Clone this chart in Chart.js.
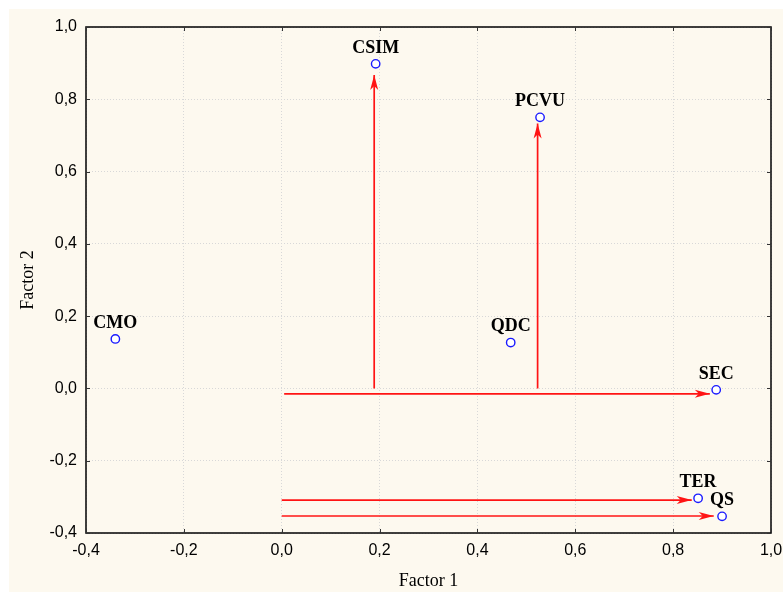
<!DOCTYPE html>
<html><head><meta charset="utf-8">
<script src="https://cdn.jsdelivr.net/npm/chart.js@4/dist/chart.umd.min.js"></script>
<style>
html,body{margin:0;padding:0;background:#fff;}
#wrap{position:absolute;left:9px;top:9px;width:774px;height:583px;background:#fdf9ef;}
</style></head><body>
<div id="wrap"><canvas id="c" width="774" height="583"></canvas></div>
<script>
// Variables and their loadings
const categories = ['CSIM','PCVU','CMO','QDC','SEC','TER','QS'];
const factor1 = [0.192, 0.528, -0.340, 0.468, 0.888, 0.851, 0.900];
const factor2 = [0.898, 0.750, 0.137, 0.127, -0.004, -0.304, -0.354];
// Arrows (start -> end)
const arrowFromX = [0.189, 0.523, 0.005, 0.000, 0.000];
const arrowFromY = [0.000, 0.000, -0.015, -0.309, -0.353];
const arrowToX   = [0.189, 0.523, 0.875, 0.838, 0.883];
const arrowToY   = [0.867, 0.733, -0.015, -0.309, -0.353];
// Axis ticks
const tickValuesX = [-0.4,-0.2,0.0,0.2,0.4,0.6,0.8,1.0];
const tickLabelsX = ['-0,4','-0,2','0,0','0,2','0,4','0,6','0,8','1,0'];
const tickValuesY = [-0.4,-0.2,0.0,0.2,0.4,0.6,0.8,1.0];
const tickLabelsY = ['-0,4','-0,2','0,0','0,2','0,4','0,6','0,8','1,0'];

const RED = 'rgb(255,20,20)';
const HEAD_LEN = 15, HEAD_W = 4, NOTCH = 11;

function labelFor(vals, labs, v){
  for(let i=0;i<vals.length;i++) if(Math.abs(vals[i]-v)<1e-6) return labs[i];
  return '';
}

const arrowDatasets = arrowFromX.map((x0,i)=>({
  type:'line',
  data:[{x:x0,y:arrowFromY[i]},{x:arrowToX[i],y:arrowToY[i]}],
  borderColor:RED, borderWidth:1.7, pointRadius:0, fill:false, tension:0,
  order:2
}));

const pointDataset = {
  type:'scatter',
  data: categories.map((c,i)=>({x:factor1[i],y:factor2[i]})),
  pointStyle:'circle', pointRadius:4.2, borderColor:'#1a1aff', backgroundColor:'#ffffff',
  borderWidth:1.4, order:1
};

const plugin = {
  id:'extras',
  afterDatasetsDraw(chart){
    const ctx=chart.ctx, xs=chart.scales.x, ys=chart.scales.y, a=chart.chartArea;
    ctx.save();
    ctx.fillStyle=RED;
    arrowFromX.forEach((x0,i)=>{
      const px0=xs.getPixelForValue(x0), py0=ys.getPixelForValue(arrowFromY[i]);
      const px1=xs.getPixelForValue(arrowToX[i]), py1=ys.getPixelForValue(arrowToY[i]);
      const ang=Math.atan2(py1-py0,px1-px0);
      ctx.save();
      ctx.translate(px1,py1); ctx.rotate(ang);
      ctx.beginPath();
      ctx.moveTo(0,0);
      ctx.lineTo(-HEAD_LEN,-HEAD_W);
      ctx.lineTo(-NOTCH,0);
      ctx.lineTo(-HEAD_LEN,HEAD_W);
      ctx.closePath();
      ctx.fill();
      ctx.restore();
    });
    ctx.restore();
    // frame
    ctx.save();
    ctx.strokeStyle='#111'; ctx.lineWidth=1.6;
    ctx.strokeRect(a.left,a.top,a.right-a.left,a.bottom-a.top);
    ctx.lineWidth=1; ctx.strokeStyle='#333';
    ctx.beginPath();
    tickValuesX.forEach(v=>{
      const p=Math.round(xs.getPixelForValue(v))+0.5;
      ctx.moveTo(p,a.top); ctx.lineTo(p,a.top+4);
      ctx.moveTo(p,a.bottom); ctx.lineTo(p,a.bottom-4);
    });
    tickValuesY.forEach(v=>{
      const p=Math.round(ys.getPixelForValue(v))+0.5;
      ctx.moveTo(a.left,p); ctx.lineTo(a.left+4,p);
      ctx.moveTo(a.right,p); ctx.lineTo(a.right-4,p);
    });
    ctx.stroke();
    ctx.restore();
    // point labels
    ctx.save();
    ctx.font='bold 18px "Liberation Serif", "Times New Roman", serif';
    ctx.fillStyle='#000'; ctx.textAlign='center'; ctx.textBaseline='middle';
    categories.forEach((c,i)=>{
      const px=xs.getPixelForValue(factor1[i]), py=ys.getPixelForValue(factor2[i]);
      ctx.fillText(c,px,py-16);
    });
    ctx.restore();
  }
};

new Chart(document.getElementById('c'),{
  data:{datasets:[pointDataset,...arrowDatasets]},
  options:{
    responsive:false, animation:false,
    layout:{padding:{top:18,right:12,left:0,bottom:0}},
    plugins:{legend:{display:false},tooltip:{enabled:false}},
    scales:{
      x:{type:'linear',min:-0.4,max:1.0,
        afterBuildTicks(s){s.ticks=tickValuesX.map(v=>({value:v}));},
        afterFit(s){s.height=59;s.paddingLeft=0;s.paddingRight=0;},
        ticks:{padding:8,color:'#000',font:{family:'"Liberation Sans", Arial, sans-serif',size:16},
          maxRotation:0,callback:(v)=>labelFor(tickValuesX,tickLabelsX,v)},
        grid:{color:'#d8d8d8',lineWidth:1,drawTicks:false},
        border:{display:false,dash:[1,2]},
        title:{display:true,text:'Factor 1',color:'#000',
          font:{family:'"Liberation Serif", serif',size:18},padding:{top:8,bottom:0}}
      },
      y:{type:'linear',min:-0.4,max:1.0,
        afterBuildTicks(s){s.ticks=tickValuesY.map(v=>({value:v}));},
        afterFit(s){s.width=77;s.paddingTop=0;s.paddingBottom=0;},
        ticks:{padding:9,color:'#000',font:{family:'"Liberation Sans", Arial, sans-serif',size:16},
          callback:(v)=>labelFor(tickValuesY,tickLabelsY,v)},
        grid:{color:'#d8d8d8',lineWidth:1,drawTicks:false},
        border:{display:false,dash:[1,2]},
        title:{display:true,text:'Factor 2',color:'#000',
          font:{family:'"Liberation Serif", serif',size:18},padding:{top:8,bottom:0}}
      }
    }
  },
  plugins:[plugin]
});
</script>
</body></html>
